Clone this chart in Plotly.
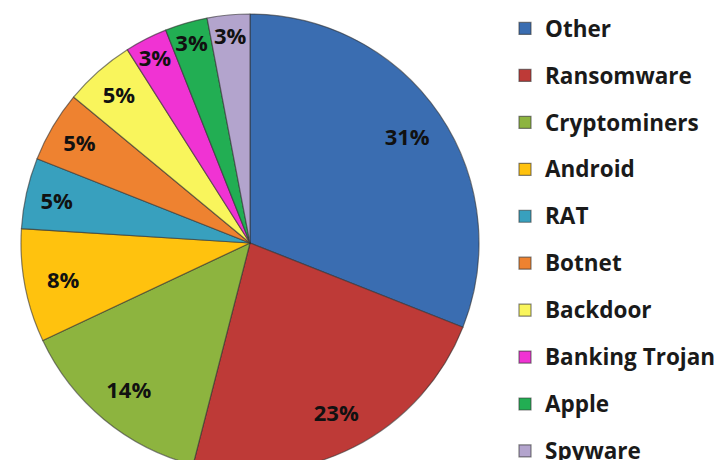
import plotly.graph_objects as go

categories = ["Other", "Ransomware", "Cryptominers", "Android", "RAT",
              "Botnet", "Backdoor", "Banking Trojan", "Apple", "Spyware"]
shares = [31, 23, 14, 8, 5, 5, 5, 3, 3, 3]
colors = ["#3A6DB1", "#BE3A37", "#8DB43F", "#FFC20E", "#38A0BE",
          "#EE8230", "#F9F55C", "#F033D3", "#22AE53", "#B3A4CD"]

W, H = 723, 500
legend_labels = [f"<span style='font-size:22.5px;baseline-shift:5px'>{c}</span>" for c in categories]

# pie placement (pixels) -> paper domain
cx, cy, r = 250, 243, 229
dom_x = [(cx - r) / W, (cx + r) / W]
dom_y = [1 - (cy + r) / H, 1 - (cy - r) / H]

fig = go.Figure()
fig.add_trace(go.Pie(
    labels=legend_labels, values=shares, sort=False, direction="clockwise",
    rotation=0, marker=dict(colors=colors, line=dict(color="rgba(50,50,50,0.6)", width=1.2)),
    textinfo="none", domain=dict(x=dom_x, y=dom_y), hoverinfo="label+percent",
))
fig.add_trace(go.Pie(
    labels=legend_labels, values=shares, sort=False, direction="clockwise",
    rotation=0, hole=0.66, showlegend=False,
    marker=dict(colors=["rgba(0,0,0,0)"] * len(shares), line=dict(width=0)),
    texttemplate="%{value}%", textposition="inside", insidetextorientation="horizontal",
    textfont=dict(family="Open Sans", size=22, color="#111111", weight="bold"),
    domain=dict(x=dom_x, y=dom_y), hoverinfo="skip",
))

fig.update_layout(
    width=W, height=H,
    margin=dict(l=0, r=0, t=0, b=0),
    paper_bgcolor="white", plot_bgcolor="white",
    font=dict(family="Open Sans", color="#1a1a1a"),
    uniformtext=dict(minsize=22, mode="show"),
    legend=dict(x=505 / W, xanchor="left", y=1, yanchor="top",
                font=dict(family="Open Sans", size=33.8, color="#1a1a1a", weight="bold"),
                bgcolor="rgba(0,0,0,0)", traceorder="normal"),
)

fig.write_html("out.html", post_script="document.documentElement.style.overflow='hidden';document.body.style.overflow='hidden';")
